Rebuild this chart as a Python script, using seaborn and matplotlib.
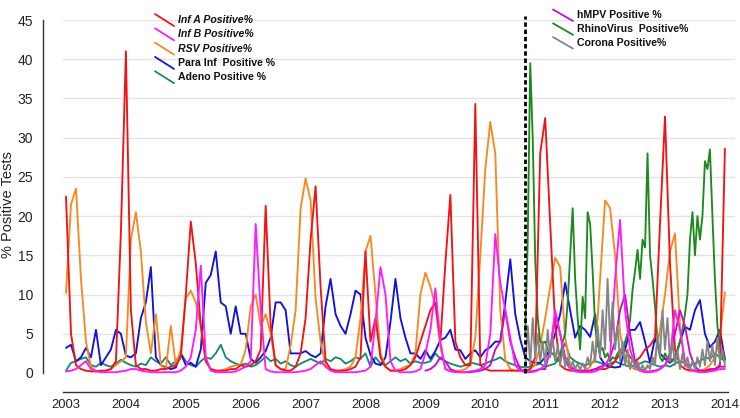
import numpy as np
import pandas as pd
import matplotlib
matplotlib.use("Agg")
import matplotlib.pyplot as plt
from matplotlib.lines import Line2D
from matplotlib.ticker import MultipleLocator
import seaborn as sns

# ---------------- data (monthly, Jan 2003 .. Jan 2014) ----------------
inf_a = [22.5, 5, 1, 0.5, 0.3, 0.2, 0.2, 0.3, 0.3, 0.5, 1.5, 18,
         41, 8, 1, 0.5, 0.5, 0.3, 0.3, 0.5, 0.5, 0.8, 1, 2,
         10, 19.3, 14, 6, 1.5, 0.5, 0.3, 0.3, 0.3, 0.5, 0.5, 1,
         0.8, 1, 1.5, 3, 21.3, 6, 1, 0.5, 0.3, 0.3, 0.8, 2.5,
         7, 17, 23.8, 11, 1.5, 0.5, 0.3, 0.3, 0.3, 0.5, 0.8, 2,
         15.5, 4, 7, 2, 0.8, 0.3, 0.3, 0.3, 0.5, 1, 2, 4,
         6, 8, 9, 4, 14, 22.7, 4, 2, 1, 1, 34.3, 1,
         0.5, 0.3, 0.3, 0.3, 0.3, 0.3, 0.3, 0.3, 0.3, 0.5, 2, 28,
         32.5, 19, 6, 1, 0.5, 0.3, 0.3, 0.3, 0.3, 0.3, 0.5, 0.5,
         0.5, 0.8, 1.5, 2.5, 3, 2, 1.5, 2, 3, 3.5, 4.5, 19,
         32.7, 14, 3, 1, 0.5, 0.3, 0.3, 0.3, 0.3, 0.5, 0.5, 1,
         28.6]
inf_b = [0.2, 0.3, 0.5, 1, 1.5, 0.5, 0.2, 0.1, 0.1, 0.1, 0.1, 0.2,
         0.3, 0.5, 0.5, 0.3, 0.2, 0.1, 0.1, 0.1, 0.1, 0.1, 0.1, 0.3,
         0.8, 2, 5.5, 13.7, 2, 0.3, 0.1, 0.1, 0.1, 0.1, 0.2, 0.5,
         0.8, 1.5, 19, 8, 0.5, 0.2, 0.1, 0.1, 0.1, 0.1, 0.1, 0.2,
         0.3, 0.5, 1, 1.5, 0.8, 0.3, 0.1, 0.1, 0.1, 0.1, 0.1, 0.2,
         0.3, 0.8, 6.5, 13.5, 10, 1.5, 0.3, 0.1, 0.1, 0.1, 0.2, 0.5,
         2.5, 5.5, 10.8, 4, 0.5, 0.2, 0.1, 0.1, 0.1, 0.2, 0.3, 0.5,
         1, 5, 17.7, 11.5, 8, 4.5, 1, 0.3, 0.1, 0.1, 0.2, 0.5,
         1, 2.5, 8, 5, 1.5, 0.5, 0.2, 0.1, 0.1, 0.1, 0.2, 0.5,
         1, 2, 12, 19.5, 8, 3, 1, 0.3, 0.1, 0.1, 0.2, 0.5,
         1, 2, 8, 5.5, 1.5, 0.5, 0.2, 0.1, 0.1, 0.2, 0.3, 0.5,
         0.5]
rsv = [10.2, 21.5, 23.5, 12, 4, 0.8, 0.3, 0.2, 0.3, 0.5, 1, 1.5,
       2, 17, 20.5, 15.5, 6.5, 2.5, 7.5, 1, 0.5, 6, 1, 3,
       9.5, 10.5, 9, 6, 1.5, 0.5, 0.3, 0.3, 0.5, 0.8, 1, 1,
       3, 8.5, 10, 6, 7.5, 5, 1, 0.5, 0.5, 3.5, 8, 21,
       24.8, 22, 9.5, 4, 1, 0.5, 0.3, 0.3, 0.5, 0.8, 2, 7,
       15.5, 17.5, 10, 2.5, 0.8, 0.3, 0.3, 0.5, 0.8, 1, 2.5, 10,
       12.8, 11, 8.5, 3.3, 0.5, 0.3, 0.3, 0.3, 0.5, 1, 4.5, 15,
       26, 32, 28, 8, 1.7, 0.5, 0.3, 0.3, 0.3, 0.5, 1, 3.5,
       7, 11, 14.7, 13.5, 4.5, 1, 0.5, 0.3, 0.3, 0.8, 2, 12,
       22, 21, 15, 5, 2, 0.8, 0.5, 0.3, 0.5, 1, 2, 5.5,
       10, 15.5, 17.8, 6, 1, 0.5, 0.3, 0.3, 0.5, 1, 2, 4.5,
       10.3]
para_inf = [3.2, 3.6, 1.5, 2, 3.2, 2, 5.5, 1, 2, 3, 5.5, 5,
            2.2, 2, 2.5, 7, 9, 13.5, 2, 1, 0.7, 0.5, 0.7, 2.5,
            1, 1.3, 0.8, 3, 11.5, 12.5, 15.5, 9, 8.5, 5, 8.5, 5,
            5, 1.8, 1.3, 2, 2.8, 4.5, 9, 9, 8, 2.5, 2.5, 2.5,
            2.8, 2.3, 2, 2.5, 8.5, 12, 7.5, 6, 5, 7.5, 10.5, 10,
            4.5, 2.3, 1.2, 1, 2, 6.5, 12, 7, 4.5, 2.5, 2.5, 1.8,
            2.9, 1.8, 2.8, 4.2, 4.5, 5.5, 3, 2.9, 1.8, 2.5, 2.9, 2,
            2.9, 3.3, 4, 4, 9, 14.5, 7.5, 4.3, 2, 1.5, 1.3, 1.3,
            2, 3, 5, 7.5, 11.5, 8, 4.5, 6, 5.5, 4.6, 7.5, 2,
            1, 0.8, 0.7, 0.8, 3, 5.5, 5.5, 6.5, 4, 1.3, 4.5, 2.5,
            1.8, 1.3, 2, 4, 5.9, 5.5, 8, 9.3, 5, 3.3, 4, 5.5,
            1.7]
adeno = [0.3, 1.3, 1.5, 1.8, 2, 1, 0.8, 1.3, 1, 0.8, 1.2, 1.7,
         1.3, 1, 0.8, 1.2, 1, 2, 1.5, 1.2, 2, 1, 1.5, 2.5,
         1.5, 1, 0.8, 1.5, 2, 1.8, 2.5, 3.6, 2, 1.5, 1.2, 1,
         1.2, 0.8, 1, 1.5, 2.1, 1.5, 1.8, 1.2, 1.5, 1, 0.8, 1.2,
         1.5, 1.8, 1.5, 1.2, 1.8, 1.5, 2, 1.8, 1.2, 1.5, 2, 1.8,
         2.5, 0.8, 2, 1.2, 1, 1.5, 2, 1.5, 1.8, 1.2, 1.5, 1.3,
         1.3, 1.5, 2.5, 1.8, 1.5, 1.2, 1, 0.8, 1, 1.3, 1.2, 1,
         1.2, 1.5, 1.7, 2, 1.5, 1.2, 1, 0.8, 0.7, 0.8, 1, 1.2,
         0.8, 1, 1.2, 2.5, 3.8, 2, 1.5, 1.2, 1, 1.2, 1.5, 1.3,
         1, 1.2, 1.5, 1.2, 1, 0.8, 1, 1.2, 1.5, 1.3, 1, 0.8,
         1, 0.8, 1.2, 1.5, 1.3, 1, 1.2, 1.5, 2, 1.8, 2.5, 2,
         1.5]
# hMPV monthly, Jan 2009 .. Jan 2014
hmpv = [0.3, 0.5, 1, 2, 1.5, 0.5, 0.2, 0.1, 0.1, 0.1, 0.2, 0.3,
        0.5, 1, 3, 4, 8, 4, 2, 0.5, 0.2, 0.2, 0.3, 0.5,
        0.5, 3, 7.5, 5, 2, 0.8, 0.3, 0.2, 0.2, 0.3, 0.5, 0.8,
        1, 2, 4, 8, 10, 5, 1.5, 0.5, 0.2, 0.2, 0.3, 0.5,
        1, 2.5, 5, 8, 6, 2.5, 0.8, 0.3, 0.2, 0.3, 0.5, 0.8,
        0.8]
# semi-monthly, Sep 2010 .. Jan 2014
rhino = [5, 17, 39.5, 30, 14.5, 7, 4, 3.8, 4, 3, 2.5, 2.5, 2, 1.5, 2, 4,
         5, 9, 15, 21, 12, 7, 3, 9.7, 7, 20.5, 19, 13, 6, 3.5, 2.9, 3.2,
         2, 2.5, 1.5, 2, 1.8, 2.5, 3, 2.5, 4, 5, 6.8, 10.6, 13, 15.7, 12, 17,
         16, 28, 15, 12, 8.5, 4, 2, 1.5, 2.5, 1.8, 2, 1.5, 2, 2.8, 4, 5.5,
         7.5, 10, 17, 20.5, 15, 20, 17, 20, 27, 26, 28.5, 20, 12, 6, 3.5, 2,
         2]
corona = [0.5, 6, 1, 7, 2, 5, 1.5, 4, 1, 5.5, 2, 4.5, 1.5, 3.5, 1, 3,
          0.8, 2, 0.6, 1.5, 0.5, 1.2, 0.4, 1.2, 0.5, 2, 1, 4, 1.5, 6, 2, 8,
          3, 12, 4, 9, 3, 6, 1.5, 4, 1, 3, 0.5, 2, 0.5, 1.5, 0.3, 1,
          0.3, 1, 0.5, 2, 1, 5, 2, 8, 3, 7, 1.5, 4, 1, 3, 0.5, 2.5,
          0.8, 2, 0.5, 1.5, 0.5, 2, 0.8, 3, 1, 4, 1.5, 3.5, 1, 4.5, 1.5, 3,
          1]

series_names = ["Adeno Positive %", "Para Inf  Positive %", "RSV Positive%",
                "RhinoVirus  Positive%", "Inf A Positive%", "hMPV Positive %",
                "Inf B Positive%", "Corona Positive%"]
colors = {"Inf A Positive%": "#F01414", "Inf B Positive%": "#FF1AFF",
          "RSV Positive%": "#F58A1F", "Para Inf  Positive %": "#1212DC",
          "Adeno Positive %": "#178A73", "hMPV Positive %": "#C010C8",
          "RhinoVirus  Positive%": "#1E8A1E", "Corona Positive%": "#858585"}

t_month = 2003 + np.arange(len(inf_a)) / 12.0
t_hmpv = 2009 + np.arange(len(hmpv)) / 12.0
t_semi = 2010 + 8 / 12.0 + np.arange(len(rhino)) / 24.0

frames = []
for name, t, v in [("Inf A Positive%", t_month, inf_a), ("Inf B Positive%", t_month, inf_b),
                   ("RSV Positive%", t_month, rsv), ("Para Inf  Positive %", t_month, para_inf),
                   ("Adeno Positive %", t_month, adeno), ("hMPV Positive %", t_hmpv, hmpv),
                   ("RhinoVirus  Positive%", t_semi, rhino), ("Corona Positive%", t_semi, corona)]:
    frames.append(pd.DataFrame({"year": t, "pct": v, "series": name}))
df = pd.concat(frames, ignore_index=True)

# ---------------- plot ----------------
sns.set_style("white")
plt.rcParams["font.family"] = ["Liberation Sans", "DejaVu Sans"]

W, H = 740, 418
fig = plt.figure(figsize=(W / 100, H / 100), dpi=100)
ax = fig.add_axes([63 / W, 45 / H, 672 / W, 353 / H])

PXY = 59.9  # pixels per year
X0 = 66     # pixel of 2003
sns.lineplot(data=df, x="year", y="pct", hue="series", hue_order=series_names,
             palette=colors, estimator=None, linewidth=1.35, legend=False, ax=ax)
for ln in ax.lines:
    ln.set_clip_on(False)

ax.set_xlim(2003 - (X0 - 63) / PXY, 2003 + (735 - X0) / PXY)
ax.set_ylim(0, 45)
ax.set_yticks(np.arange(0, 46, 5))
ax.yaxis.set_minor_locator(MultipleLocator(1))
ax.set_xticks(np.arange(2003, 2015, 1))
ax.set_xticklabels([str(y) for y in range(2003, 2015)])

ax.grid(axis="y", color="#e3e3e3", linewidth=1.0)
ax.grid(axis="x", visible=False)
ax.set_axisbelow(True)
gls = ax.yaxis.get_gridlines()
gls[0].set_visible(False)
gls[-1].set_visible(False)

for s in ["top", "right"]:
    ax.spines[s].set_visible(False)
ax.spines["left"].set_position(("outward", 14.4))
ax.spines["bottom"].set_position(("outward", 13.7))
ax.spines["bottom"].set_bounds(2003 - (X0 - 63) / PXY, 2014.05)
for s in ["left", "bottom"]:
    ax.spines[s].set_color("#333333")
    ax.spines[s].set_linewidth(1.0)

ax.tick_params(axis="y", which="major", direction="in", length=3, width=0.8,
               labelsize=10, colors="#222222", pad=7)
ax.tick_params(axis="y", which="minor", direction="in", length=1.5, width=0.6, colors="#333333")
ax.tick_params(axis="x", which="major", direction="in", length=3, width=0.8,
               labelsize=9.4, colors="#222222", pad=5)
ax.set_xlabel("")
ax.set_ylabel("% Positive Tests", fontsize=10.5, color="#222222")
ax.yaxis.set_label_coords((15 - 63) / 672, (373 - 205) / 353)

# dashed separator
ax.axvline(2003 + (525 - X0) / PXY, ymin=0, ymax=1.01, color="black",
           linestyle=(0, (1.6, 1.0)), linewidth=2.0, clip_on=False)

# custom legends with slanted handles
def fx(px):
    return px / W

def fy(py):
    return 1 - py / H

left_items = [("Inf A Positive%", "italic"), ("Inf B Positive%", "italic"),
              ("RSV Positive%", "italic"), ("Para Inf  Positive %", "normal"),
              ("Adeno Positive %", "normal")]
for i, (name, style) in enumerate(left_items):
    yc = 20 + i * 14.3
    fig.add_artist(Line2D([fx(155), fx(174)], [fy(yc - 6), fy(yc + 6)],
                          color=colors[name], linewidth=1.3, transform=fig.transFigure))
    fig.text(fx(178), fy(yc), name, fontsize=7.6, fontweight="bold", fontstyle=style,
             va="center", ha="left", color="#111111")

right_items = ["hMPV Positive %", "RhinoVirus  Positive%", "Corona Positive%"]
for i, name in enumerate(right_items):
    yc = 15 + i * 13.8
    fig.add_artist(Line2D([fx(553), fx(573)], [fy(yc - 5.5), fy(yc + 6)],
                          color=colors[name], linewidth=1.3, transform=fig.transFigure))
    fig.text(fx(577), fy(yc), name, fontsize=7.6, fontweight="bold",
             va="center", ha="left", color="#111111")

fig.savefig("out.png", dpi=100)
